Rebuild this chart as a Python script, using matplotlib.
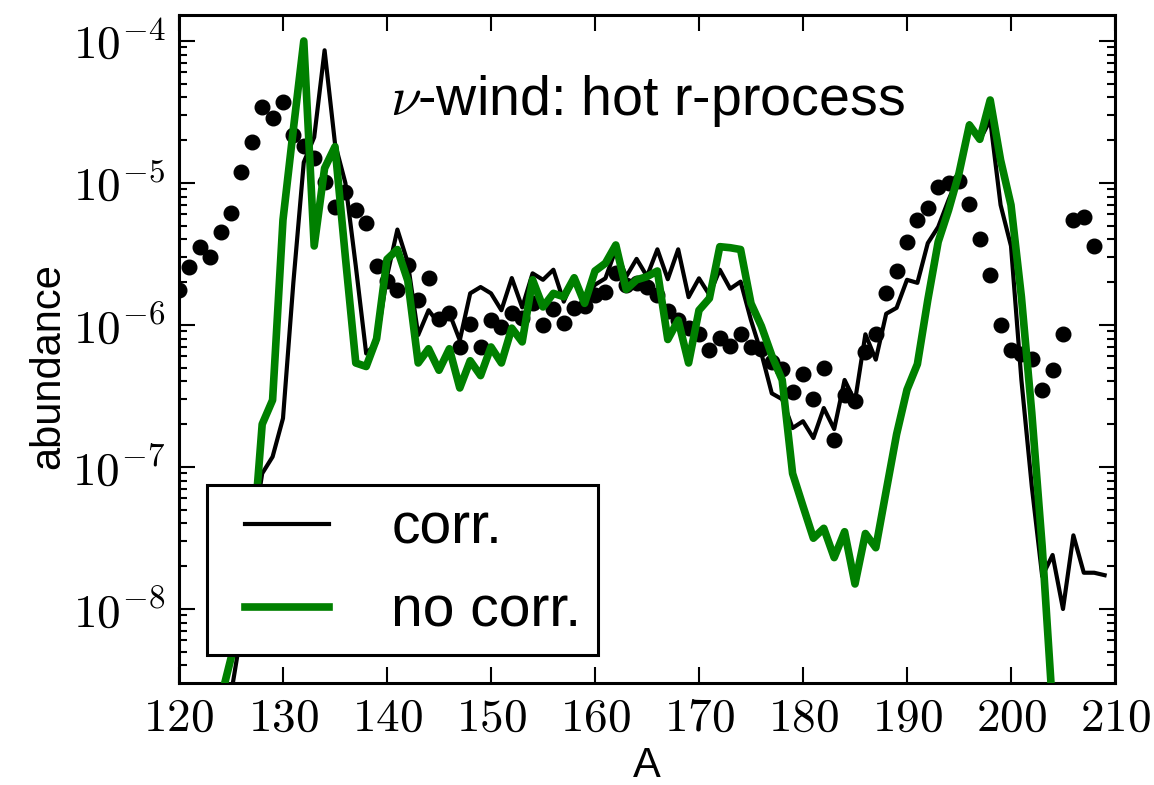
import numpy as np
import matplotlib
matplotlib.use('Agg')
import matplotlib.pyplot as plt
from matplotlib.ticker import FuncFormatter, LogLocator, MultipleLocator, NullLocator
from matplotlib.legend_handler import HandlerLine2D

plt.rcParams['font.family'] = ['Liberation Sans', 'DejaVu Sans']
plt.rcParams['mathtext.fontset'] = 'cm'
plt.rcParams['mathtext.default'] = 'rm'

# mass number of the corr. curve and its abundances
A_corr = list(range(124, 210))
Y_corr = [1e-9, 2.5e-9, 7e-9, 3e-8, 9.0e-8, 1.18e-7, 2.2e-7, 2.0e-6, 1.4e-5, 2.1e-5,
          8.6e-5, 1.9e-5, 1.0e-5, 2.6e-6, 6.3e-7, 7.5e-7, 2.2e-6, 4.7e-6, 2.75e-6, 8.5e-7,
          1.27e-6, 1.02e-6, 1.21e-6, 7.8e-7, 1.67e-6, 1.85e-6, 1.67e-6, 1.27e-6, 2.14e-6, 1.33e-6,
          2.31e-6, 2.08e-6, 2.45e-6, 1.46e-6, 2.19e-6, 1.5e-6, 1.92e-6, 2.13e-6, 3.4e-6, 2.19e-6,
          2.92e-6, 2.2e-6, 3.41e-6, 2.1e-6, 3.41e-6, 1.57e-6, 2.13e-6, 1.63e-6, 2.45e-6, 1.8e-6,
          2.02e-6, 1.08e-6, 6.3e-7, 3.3e-7, 3.0e-7, 1.88e-7, 2.1e-7, 1.6e-7, 2.6e-7, 1.85e-7,
          4.1e-7, 2.9e-7, 8.6e-7, 5.7e-7, 1.2e-6, 1.32e-6, 2.08e-6, 1.98e-6, 3.77e-6, 4.9e-6,
          7.6e-6, 1.14e-5, 2.63e-5, 2.0e-5, 2.78e-5, 7.0e-6, 3.6e-6, 4.1e-7, 7.3e-8, 1.7e-8,
          2.4e-8, 1.0e-8, 3.3e-8, 1.8e-8, 1.8e-8, 1.73e-8]

# no corr. curve
A_nocorr = list(range(123, 205))
Y_nocorr = [1e-9, 2.3e-9, 4.5e-9, 8.9e-9, 2.3e-8, 2.0e-7, 2.96e-7, 5.5e-6, 2.4e-5, 1.0e-4,
            3.6e-6, 1.27e-5, 1.8e-5, 3.0e-6, 5.4e-7, 5.1e-7, 8.0e-7, 2.9e-6, 3.4e-6, 2.05e-6,
            5.4e-7, 6.8e-7, 4.8e-7, 6.8e-7, 3.6e-7, 5.6e-7, 4.4e-7, 7.0e-7, 5.4e-7, 9.5e-7,
            7.6e-7, 2.08e-6, 1.34e-6, 1.67e-6, 1.58e-6, 2.15e-6, 1.42e-6, 2.4e-6, 2.72e-6, 3.66e-6,
            1.78e-6, 2.08e-6, 2.19e-6, 2.4e-6, 7.9e-7, 1.08e-6, 5.4e-7, 1.27e-6, 1.54e-6, 3.56e-6,
            3.5e-6, 3.4e-6, 1.42e-6, 9.8e-7, 6.1e-7, 4.1e-7, 9.0e-8, 5.3e-8, 3.15e-8, 3.7e-8,
            2.3e-8, 3.5e-8, 1.5e-8, 3.4e-8, 2.7e-8, 6.8e-8, 1.7e-7, 3.5e-7, 5.3e-7, 1.5e-6,
            3.85e-6, 6.45e-6, 1.17e-5, 2.56e-5, 2.03e-5, 3.84e-5, 1.45e-5, 7.0e-6, 1.58e-6, 2.4e-7,
            2.75e-8, 2e-9]

# solar r-process abundances (dots)
A_solar = list(range(120, 209))
Y_solar = [1.77e-6, 2.58e-6, 3.52e-6, 3.03e-6, 4.54e-6, 6.12e-6, 1.19e-5, 1.94e-5, 3.44e-5, 2.85e-5,
           3.74e-5, 2.18e-5, 1.83e-5, 1.5e-5, 1.02e-5, 6.8e-6, 8.6e-6, 6.45e-6, 5.2e-6, 2.6e-6,
           2.05e-6, 1.75e-6, 2.64e-6, 1.5e-6, 2.13e-6, 1.11e-6, 1.22e-6, 7.0e-7, 1.01e-6, 7.0e-7,
           1.08e-6, 9.7e-7, 1.21e-6, 1.12e-6, 1.42e-6, 1.0e-6, 1.29e-6, 1.04e-6, 1.32e-6, 1.36e-6,
           1.63e-6, 1.72e-6, 2.31e-6, 1.9e-6, 1.98e-6, 1.85e-6, 1.63e-6, 1.25e-6, 1.08e-6, 9.5e-7,
           8.6e-7, 6.7e-7, 8.1e-7, 7.1e-7, 8.6e-7, 7.0e-7, 6.8e-7, 5.5e-7, 4.9e-7, 3.4e-7,
           4.5e-7, 3.0e-7, 5.0e-7, 1.54e-7, 3.2e-7, 2.9e-7, 6.5e-7, 8.6e-7, 1.67e-6, 2.4e-6,
           3.82e-6, 5.48e-6, 6.7e-6, 9.33e-6, 1.0e-5, 1.04e-5, 7.1e-6, 4.0e-6, 2.25e-6, 1.0e-6,
           6.7e-7, 6.2e-7, 5.8e-7, 3.5e-7, 4.8e-7, 8.6e-7, 5.5e-6, 5.8e-6, 3.6e-6]

fig = plt.figure(figsize=(11.54, 7.85), dpi=100)
ax = fig.add_axes([0.1551, 0.1299, 0.8111, 0.851])

ax.plot(A_solar, Y_solar, 'o', color='black', markersize=10.5, zorder=2)
ax.plot(A_corr, Y_corr, '-', color='black', linewidth=3.0, label='corr.', zorder=3)
ax.plot(A_nocorr, Y_nocorr, '-', color='green', linewidth=5.5, label='no corr.', zorder=4)

ax.set_yscale('log')
ax.set_xlim(120, 210)
ax.set_ylim(3.01e-9, 1.524e-4)

ax.xaxis.set_major_locator(MultipleLocator(10))
ax.xaxis.set_major_formatter(FuncFormatter(lambda v, p: r'$%d$' % v))
ax.xaxis.set_minor_locator(NullLocator())
ax.yaxis.set_major_locator(LogLocator(base=10, numticks=20))
ax.yaxis.set_minor_locator(LogLocator(base=10, subs=np.arange(2, 10), numticks=20))
ax.yaxis.set_major_formatter(FuncFormatter(lambda v, p: r'$10^{%d}$' % round(np.log10(v))))

ax.tick_params(which='both', direction='in', top=True, right=True, width=1.5)
ax.tick_params(which='major', length=11.5, labelsize=34, pad=10)
ax.tick_params(which='minor', length=6)
for s in ax.spines.values():
    s.set_linewidth(2.2)

ax.set_xlabel('A', fontsize=30, labelpad=4)
ax.set_ylabel('abundance', fontsize=30)
ax.yaxis.set_label_coords(-0.118, 0.475)

ax.text(0.225, 0.85, r'$\nu$-wind: hot r-process', transform=ax.transAxes,
        fontsize=40, va='baseline', ha='left')

leg = ax.legend(loc='lower left', bbox_to_anchor=(0.0299, 0.0419), borderaxespad=0,
                fontsize=41, fancybox=False, framealpha=1, edgecolor='black',
                handlelength=1.86, handletextpad=1.09, labelspacing=0.51, borderpad=0.29,
                handler_map={matplotlib.lines.Line2D: HandlerLine2D(xpad=0.38)})
leg.get_frame().set_linewidth(2.2)

fig.savefig('out.png', dpi=100)
